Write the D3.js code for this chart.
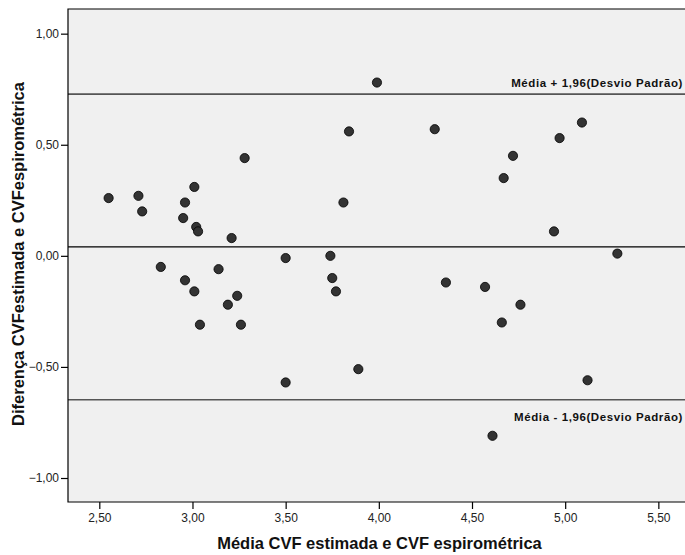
<!DOCTYPE html>
<html>
<head>
<meta charset="utf-8">
<script src="https://cdn.jsdelivr.net/npm/d3@7"></script>
<style>
  body { margin: 0; background: #fff; }
  svg { display: block; font-family: "Liberation Sans", Arial, sans-serif; }
</style>
</head>
<body>
<svg width="685" height="555"></svg>
<script>
// media das duas medidas (x) e diferenca (y)
var media = [2.55, 2.71, 2.73, 3.28, 3.01, 2.96, 2.95, 3.02, 3.03, 3.21,
    2.83, 3.14, 2.96, 3.01, 3.24, 3.19, 3.04, 3.26,
    3.99, 3.84, 4.30, 3.81, 3.50, 3.74, 3.75, 3.77, 4.36, 3.89, 3.50,
    5.09, 4.97, 4.72, 4.67, 4.94, 5.28, 4.57, 4.76, 4.66, 5.12, 4.61];
var diferenca = [0.26, 0.27, 0.20, 0.44, 0.31, 0.24, 0.17, 0.13, 0.11, 0.08,
    -0.05, -0.06, -0.11, -0.16, -0.18, -0.22, -0.31, -0.31,
    0.78, 0.56, 0.57, 0.24, -0.01, 0.00, -0.10, -0.16, -0.12, -0.51, -0.57,
    0.60, 0.53, 0.45, 0.35, 0.11, 0.01, -0.14, -0.22, -0.30, -0.56, -0.81];

var linhas = [0.728, 0.040, -0.648];
var rotulosLinhas = ["Média + 1,96(Desvio Padrão)", "", "Média - 1,96(Desvio Padrão)"];
var xTicks = [2.5, 3.0, 3.5, 4.0, 4.5, 5.0, 5.5];
var yTicks = [1.0, 0.5, 0.0, -0.5, -1.0];

var svg = d3.select("svg");
var margin = {left: 68, top: 9, right: 0, bottom: 53};
var width = 685 - margin.left - margin.right,
    height = 555 - margin.top - margin.bottom;

var x = d3.scaleLinear().domain([2.332, 5.643]).range([0, width]);
var y = d3.scaleLinear().domain([-1.108, 1.111]).range([height, 0]);

var fmt = function (d) { return d3.format(".2f")(d).replace(".", ","); };

var g = svg.append("g")
    .attr("transform", "translate(" + margin.left + "," + margin.top + ")");

g.append("rect")
    .attr("width", width).attr("height", height)
    .attr("fill", "#f0f0f0");

var xAxis = g.append("g")
    .attr("transform", "translate(0," + height + ")")
    .call(d3.axisBottom(x).tickValues(xTicks).tickFormat(fmt).tickSize(7).tickSizeOuter(0));
var yAxis = g.append("g")
    .call(d3.axisLeft(y).tickValues(yTicks).tickFormat(fmt).tickSize(7).tickSizeOuter(0));

[xAxis, yAxis].forEach(function (a) {
    a.select(".domain").remove();
    a.selectAll("line").attr("stroke", "#000").attr("stroke-width", 1.2);
    a.selectAll("text")
        .attr("fill", "#222")
        .style("font-size", "12px")
        .style("font-family", "'Liberation Sans', Arial, sans-serif");
});
xAxis.selectAll("text").attr("y", 11).attr("dy", "0.71em");
yAxis.selectAll("text").attr("x", -9);

// linhas de referencia
g.selectAll(".ref")
    .data(linhas)
    .enter().append("line")
    .attr("class", "ref")
    .attr("x1", 0).attr("x2", width)
    .attr("y1", function (d) { return y(d); })
    .attr("y2", function (d) { return y(d); })
    .attr("stroke", function (d, i) { return i === 1 ? "#000" : "#555"; })
    .attr("stroke-width", function (d, i) { return i === 1 ? 1.2 : 1.6; });

g.selectAll(".ref-label")
    .data(linhas)
    .enter().append("text")
    .attr("class", "ref-label")
    .attr("x", width - 2)
    .attr("y", function (d, i) { return i === 0 ? y(d) - 7 : y(d) + 21; })
    .attr("text-anchor", "end")
    .style("font-size", "11.5px")
    .style("font-weight", "bold")
    .style("letter-spacing", "0.6px")
    .attr("fill", "#111")
    .text(function (d, i) { return rotulosLinhas[i]; });

// pontos
g.selectAll(".ponto")
    .data(media)
    .enter().append("circle")
    .attr("class", "ponto")
    .attr("cx", function (d) { return x(d); })
    .attr("cy", function (d, i) { return y(diferenca[i]); })
    .attr("r", 4.6)
    .attr("fill", "#333")
    .attr("stroke", "#000")
    .attr("stroke-width", 0.8);

// borda
g.append("path")
    .attr("d", "M" + width + ",0H0V" + height + "H" + width)
    .attr("fill", "none")
    .attr("stroke", "#000")
    .attr("stroke-width", 1.2);

svg.append("text")
    .attr("x", margin.left + width / 2 + 3)
    .attr("y", 549)
    .attr("text-anchor", "middle")
    .style("font-size", "16.5px")
    .style("font-weight", "bold")
    .attr("fill", "#111")
    .text("Média CVF estimada e CVF espirométrica");

svg.append("text")
    .attr("transform", "translate(24," + 254 + ") rotate(-90)")
    .attr("text-anchor", "middle")
    .style("font-size", "16.5px")
    .style("font-weight", "bold")
    .attr("fill", "#111")
    .text("Diferença CVFestimada e CVFespirométrica");
</script>
</body>
</html>
